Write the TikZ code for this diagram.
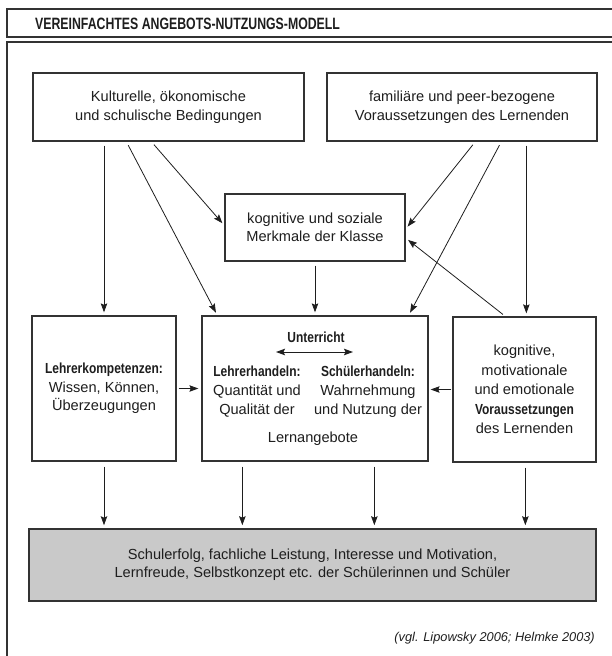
\documentclass[tikz,border=0pt]{standalone}
\usepackage{fontspec}
\setmainfont{Liberation Sans}
\newfontfamily\condfont{Liberation Sans}[FakeStretch=0.82]
\newfontfamily\titlefont{Liberation Sans}[FakeStretch=0.75]
\usetikzlibrary{arrows.meta,calc}
\definecolor{ink}{HTML}{1E1E1E}
\definecolor{edge}{HTML}{333333}
\definecolor{outfill}{HTML}{C9C9C9}
\begin{document}
\begin{tikzpicture}[x=1pt,y=-1pt,
  box/.style={draw=edge, line width=1.3pt, fill=white, inner sep=0pt, align=center, text=ink,
    font=\fontsize{14.6}{19}\selectfont},
  txt/.style={inner sep=0pt, align=center, text=ink, font=\fontsize{14.6}{19}\selectfont},
  tip/.tip={Stealth[length=9pt,width=6.5pt,inset=1.5pt]},
  arr/.style={draw=ink, line width=0.8pt, -tip, shorten <=4pt, shorten >=3pt},
  arrboth/.style={draw=ink, line width=0.9pt, tip-tip},
  frameline/.style={draw=edge, line width=1.4pt}]
\useasboundingbox (0,0) rectangle (612,656);

% frame and title bar
\draw[frameline] (612,9) -- (7,9) -- (7,37) -- (612,37);
\draw[frameline, line width=1.6pt] (612,42) -- (7,42) -- (7,656);
\node[anchor=west, inner sep=0pt, text=ink, font=\titlefont\bfseries\fontsize{16.4}{18}\selectfont]
  (title) at (35,23.5) {VEREINFACHTES ANGEBOTS-NUTZUNGS-MODELL};

% boxes
\node[box, minimum width=271pt, minimum height=68pt] (A) at (168.5,107)
  {Kulturelle, ökonomische\\und schulische Bedingungen};
\node[box, minimum width=270pt, minimum height=68pt] (B) at (462,107)
  {familiäre und peer-bezogene\\Voraussetzungen des Lernenden};
\node[box, minimum width=180pt, minimum height=67pt, font=\fontsize{14.6}{18.4}\selectfont] (C) at (315,227.5)
  {kognitive und soziale\\Merkmale der Klasse};
\node[box, minimum width=144pt, minimum height=145pt, font=\fontsize{14.6}{18.3}\selectfont] (D) at (104,388.5)
  {{\condfont\bfseries Lehrerkompetenzen:}\\Wissen, Können,\\Überzeugungen};
\node[box, minimum width=226pt, minimum height=145pt] (E) at (315,388.5) {};
\node[box, minimum width=143pt, minimum height=145pt, font=\fontsize{14.6}{19.6}\selectfont] (F) at (524.5,389.5)
  {kognitive,\\motivationale\\und emotionale\\{\condfont\bfseries Voraussetzungen}\\des Lernenden};
\node[box, fill=outfill, line width=1.6pt, minimum width=567pt, minimum height=72pt,
  font=\fontsize{14.6}{18}\selectfont] (G) at (312.5,565)
  {Schulerfolg, fachliche Leistung, Interesse und Motivation,\\Lernfreude, Selbstkonzept etc. der Schülerinnen und Schüler};

% contents of the Unterricht box
\node[txt, font=\condfont\bfseries\fontsize{14.6}{19}\selectfont] (U) at (316,337) {Unterricht};
\coordinate (ul) at (276,352);
\coordinate (ur) at (353,352);
\draw[arrboth] (ul) -- (ur);
\node[txt] (LH) at (257,391.5) {{\condfont\bfseries Lehrerhandeln:}\\Quantität und\\Qualität der};
\node[txt] (SH) at (368,391.5) {{\condfont\bfseries Schülerhandeln:}\\Wahrnehmung\\und Nutzung der};
\node[txt] (LA) at (313,439) {Lernangebote};

% citation
\node[anchor=east, inner sep=0pt, text=ink, font=\itshape\fontsize{12.8}{15}\selectfont]
  (cite) at (595,638) {(vgl. Lipowsky 2006; Helmke 2003)};

% connectors
\coordinate (bf) at ([xshift=200pt]B.south west);
\draw[arr] (A.south -| D.north) -- (D.north);
\draw[arr] ([xshift=94pt]A.south west) -- ([xshift=16pt]E.north west);
\draw[arr] ([xshift=119pt]A.south west) -- ([yshift=2pt]C.west);
\draw[arr] (C.south) -- (C.south |- E.north);
\draw[arr] ([xshift=149pt]B.south west) -- ([yshift=-1.5pt]C.east);
\draw[arr] ([xshift=175pt]B.south west) -- ([xshift=-20pt]E.north east);
\draw[arr] (bf) -- (bf |- F.north);
\draw[arr, shorten <=3pt] ([xshift=53pt]F.north west) -- ([yshift=-10.5pt]C.east);
\draw[arr, shorten <=2pt, shorten >=3pt] (D.east) -- (D.east -| E.west);
\draw[arr, shorten <=1pt, shorten >=2pt] (F.west) -- (F.west -| E.east);
\draw[arr, shorten <=5pt] (D.south) -- (D.south |- G.north);
\draw[arr, shorten <=5pt] ([xshift=41pt]E.south west) -- ([xshift=41pt]E.south west |- G.north);
\draw[arr, shorten <=5pt] ([xshift=173pt]E.south west) -- ([xshift=173pt]E.south west |- G.north);
\draw[arr, shorten <=5pt] ([xshift=73pt]F.south west) -- ([xshift=73pt]F.south west |- G.north);
\end{tikzpicture}
\end{document}
